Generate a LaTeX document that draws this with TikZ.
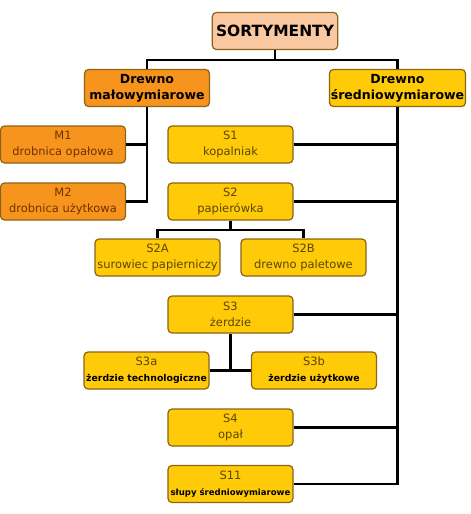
\documentclass[tikz,border=0pt]{standalone}
\usepackage{fontspec}
\setmainfont{DejaVu Sans}
\definecolor{peach}{HTML}{F9C8A0}
\definecolor{orng}{HTML}{F7941E}
\definecolor{gold}{HTML}{FFCA08}
\definecolor{rim}{HTML}{8C6414}
\definecolor{inkO}{HTML}{6E3200}
\definecolor{inkY}{HTML}{5C4600}
\tikzset{
  box/.style={draw=rim, line width=0.9pt, rounded corners=3pt, align=center,
    minimum width=93.75pt, minimum height=27.75pt, inner sep=1pt,
    font=\fontsize{8.6}{12}\selectfont},
  mbox/.style={box, fill=orng, text=inkO},
  sbox/.style={box, fill=gold, text=inkY},
  head/.style={box, text=black, font=\bfseries\fontsize{9.4}{12}\selectfont},
  link/.style={line width=1.6pt, black},
}
\newcommand{\sm}[2][7]{{\bfseries\color{black}\fontsize{#1}{9}\selectfont #2}}
\begin{document}
\begin{tikzpicture}[x=0.75pt,y=-0.75pt]
      \useasboundingbox (0,0) rectangle (471,514);
      \node[box, fill=peach, text=black, minimum width=94pt,
        font=\bfseries\fontsize{11.6}{14}\selectfont] (root) at (275,31) {SORTYMENTY};
      \node[head, fill=orng] (mal) at (147,88) {Drewno\\małowymiarowe};
      \node[head, fill=gold] (sred) at (397.5,88) {Drewno\\średniowymiarowe};
      \node[mbox] (m1) at (63,144.5) {M1\\drobnica opałowa};
      \node[mbox] (m2) at (63,201.5) {M2\\drobnica użytkowa};
      \node[sbox] (s1) at (230.5,144.5) {S1\\kopalniak};
      \node[sbox] (s2) at (230.5,201.5) {S2\\papierówka};
      \node[sbox] (s2a) at (157.5,257.5) {S2A\\surowiec papierniczy};
      \node[sbox] (s2b) at (303.5,257.5) {S2B\\drewno paletowe};
      \node[sbox] (s3) at (230.5,314.5) {S3\\żerdzie};
      \node[sbox] (s3a) at (146.5,370.5) {S3a\\\sm{żerdzie technologiczne}};
      \node[sbox] (s3b) at (314,370.5) {S3b\\\sm{żerdzie użytkowe}};
      \node[sbox] (s4) at (230.5,427.5) {S4\\opał};
      \node[sbox] (s11) at (230.5,484) {S11\\\sm[6.4]{słupy średniowymiarowe}};
      \coordinate (top) at (275,60);
      \coordinate (s2bar) at (230.5,230);
      \begin{scope}[link]
        \draw (root) to (top);
        \draw (mal.north) |- (top) -| (sred.north);
        \draw (mal.south) |- (m2.east);
        \draw (m1.east) to (m1.east -| mal.south);
        \draw (sred.south) |- (s11.east);
        \draw (s1.east) to (s1.east -| sred.south);
        \draw (s2.east) to (s2.east -| sred.south);
        \draw (s3.east) to (s3.east -| sred.south);
        \draw (s4.east) to (s4.east -| sred.south);
        \draw (s2.south) to (s2bar);
        \draw (s2a.north) |- (s2bar) -| (s2b.north);
        \draw (s3.south) to (s3.south |- s3a.east);
        \draw (s3a.east) to (s3b.west);
      \end{scope}
    \end{tikzpicture}
\end{document}
